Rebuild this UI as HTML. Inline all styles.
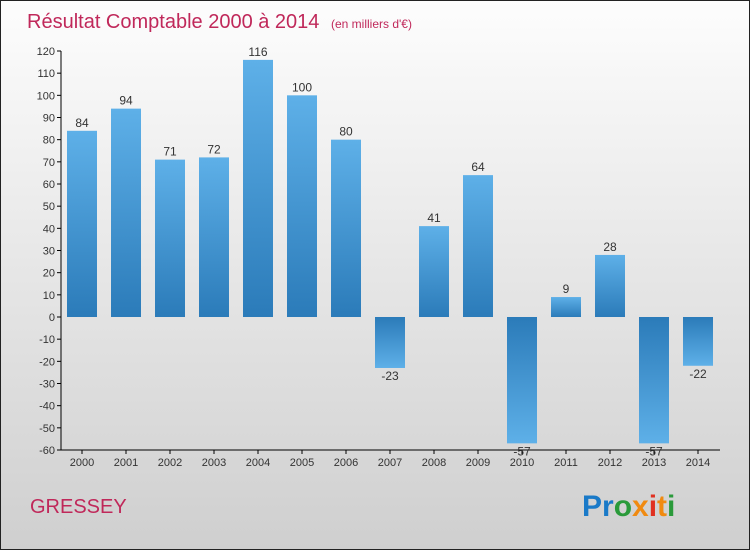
<!DOCTYPE html>
<html><head><meta charset="utf-8"><style>
html,body{margin:0;padding:0}
body{width:750px;height:550px;overflow:hidden;font-family:"Liberation Sans",sans-serif}
</style></head><body>
<svg width="750" height="550" xmlns="http://www.w3.org/2000/svg">
<defs>
<linearGradient id="bg" x1="0" y1="0" x2="0" y2="1"><stop offset="0" stop-color="#fdfdfd"/><stop offset="1" stop-color="#cfcfcf"/></linearGradient>
<linearGradient id="pos" x1="0" y1="0" x2="0" y2="1"><stop offset="0" stop-color="#5eb0e8"/><stop offset="1" stop-color="#2b7bb9"/></linearGradient>
<linearGradient id="neg" x1="0" y1="0" x2="0" y2="1"><stop offset="0" stop-color="#2b7bb9"/><stop offset="1" stop-color="#5eb0e8"/></linearGradient>
</defs>
<rect x="0.5" y="0.5" width="749" height="549" fill="url(#bg)" stroke="#222"/>
<text x="27" y="28" font-size="20" fill="#c0285a">Résultat Comptable 2000 à 2014 <tspan font-size="12" dx="6">(en milliers d'€)</tspan></text>
<g id="axes"></g>
<g id="bars"></g>
<text x="30" y="513" font-size="20" fill="#c0285a">GRESSEY</text>
<text x="582" y="516" font-size="30" font-weight="bold"><tspan fill="#1a7ac8">Pr</tspan><tspan fill="#2a9a3a">o</tspan><tspan fill="#f08a10">x</tspan><tspan fill="#e03020">i</tspan><tspan fill="#f08a10">t</tspan><tspan fill="#2a9a3a">i</tspan></text>
</svg>
<script>
const years=["2000","2001","2002","2003","2004","2005","2006","2007","2008","2009","2010","2011","2012","2013","2014"];
const values=[84,94,71,72,116,100,80,-23,41,64,-57,9,28,-57,-22];
const yTicks=[120,110,100,90,80,70,60,50,40,30,20,10,0,-10,-20,-30,-40,-50,-60];
const NS="http://www.w3.org/2000/svg";
const y=v=>317-v*(399/180);
const x=i=>82+i*44;
function mk(t,a,p){const e=document.createElementNS(NS,t);for(const k in a)e.setAttribute(k,a[k]);p.appendChild(e);return e;}
const ax=document.getElementById('axes'),bg=document.getElementById('bars');
let l=mk('line',{x1:61,y1:y(120),x2:61,y2:y(-60),stroke:'#000'},ax);


l=mk('line',{x1:61,y1:y(-60),x2:720,y2:y(-60),stroke:'#000'},ax);


yTicks.forEach(v=>{
  const t=mk('line',{x1:57,y1:y(v),x2:61,y2:y(v),stroke:'#000'},ax);
  
  
  const tx=mk('text',{x:55,y:y(v)+4,'font-size':11,fill:'#333','text-anchor':'end'},ax);
  tx.textContent=v;
  
  
});
years.forEach((yr,i)=>{
  const t=mk('line',{x1:x(i),y1:y(-60),x2:x(i),y2:y(-60)+4,stroke:'#000'},ax);
  
  
  const tx=mk('text',{x:x(i),y:466,'font-size':11,fill:'#333','text-anchor':'middle'},ax);
  tx.textContent=yr;
  
  
  const v=values[i];
  const top=Math.min(y(v),y(0)),h=Math.abs(y(v)-y(0));
  const r=mk('rect',{x:x(i)-15,y:top,width:30,height:h,fill:v>=0?'url(#pos)':'url(#neg)'},bg);
  
  
  const lb=mk('text',{x:x(i),y:v>=0?y(v)-4:y(v)+12,'font-size':12,fill:'#333','text-anchor':'middle'},bg);
  lb.textContent=v;
  
  
});
</script>
</body></html>
